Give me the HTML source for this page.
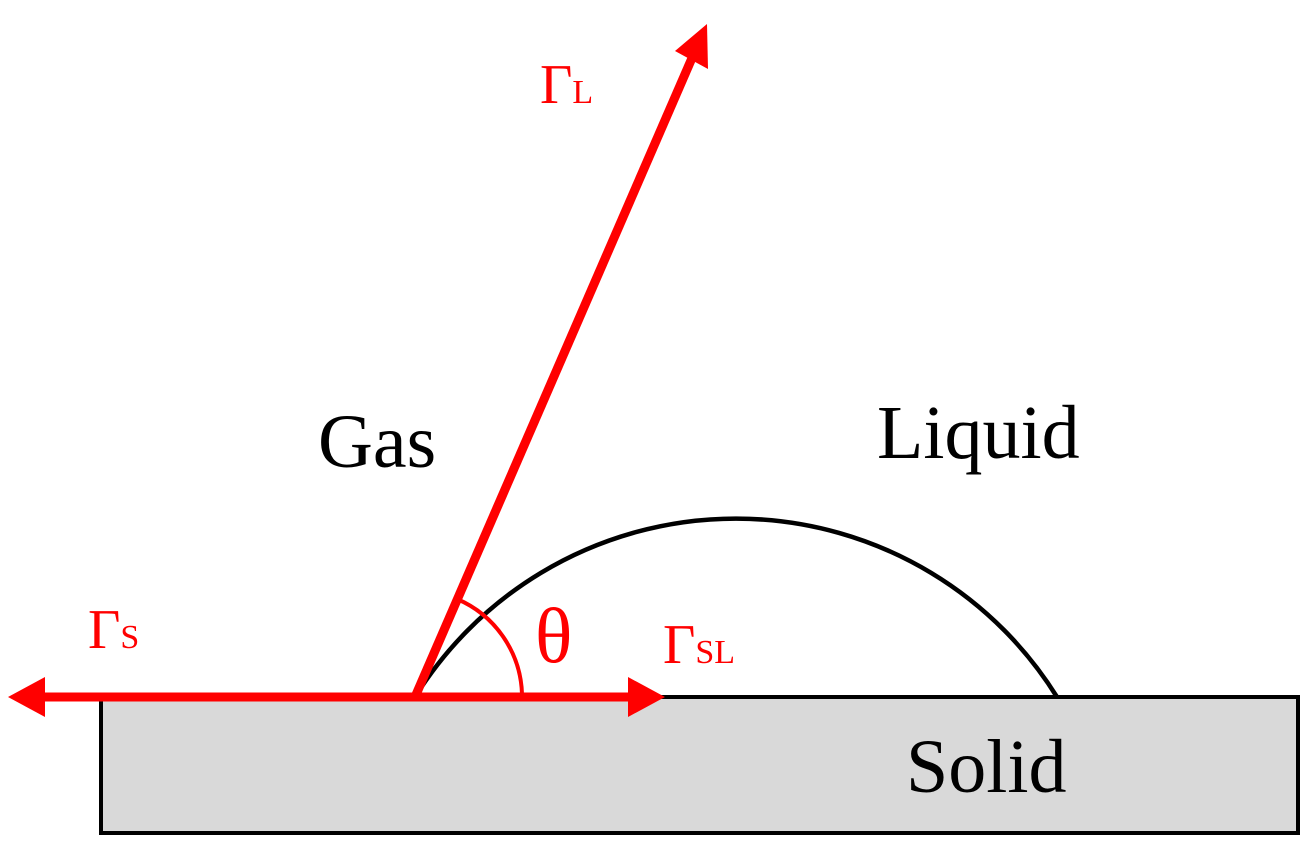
<!DOCTYPE html>
<html><head><meta charset="utf-8"><style>html,body{margin:0;padding:0;background:#fff;}svg{display:block}</style></head>
<body>
<svg width="1312" height="851" viewBox="0 0 1312 851" xmlns="http://www.w3.org/2000/svg">
<rect x="101" y="697" width="1197" height="136" fill="#d9d9d9" stroke="#000" stroke-width="4"/>
<path d="M415 697 A378 378 0 0 1 1057 697" fill="none" stroke="#000" stroke-width="4.5"/>
<path d="M522 694 A107 107 0 0 0 457 599" fill="none" stroke="#f00" stroke-width="4"/>
<line x1="40" y1="697" x2="632" y2="697" stroke="#f00" stroke-width="9"/>
<polygon points="8,697 45,677 45,717" fill="#f00"/>
<polygon points="665,697 628,677 628,717" fill="#f00"/>
<line x1="415" y1="697" x2="692" y2="58" stroke="#f00" stroke-width="9"/>
<polygon points="707,24 708,69 675,51" fill="#f00"/>
<g font-family="Liberation Serif, serif">
<text x="318" y="467" font-size="76">Gas</text>
<text x="877" y="458" font-size="76">Liquid</text>
<text x="906" y="792" font-size="76">Solid</text>
<g fill="#f00">
<text x="540" y="103" font-size="56">Γ<tspan font-size="34">L</tspan></text>
<text x="88" y="648" font-size="56">Γ<tspan font-size="34">S</tspan></text>
<text x="663" y="663" font-size="56">Γ<tspan font-size="34">SL</tspan></text>
<text x="535" y="662" font-size="78">θ</text>
</g>
</g>
</svg>
</body></html>
